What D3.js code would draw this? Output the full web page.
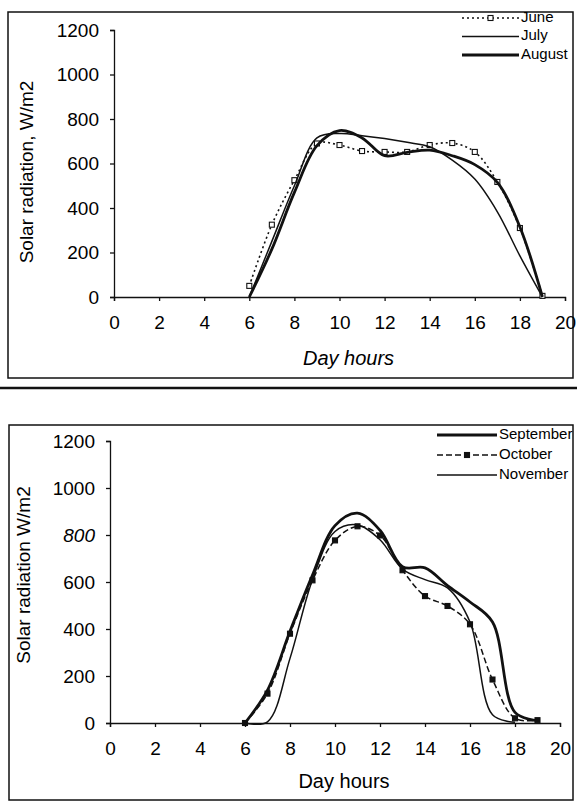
<!DOCTYPE html>
<html>
<head>
<meta charset="utf-8">
<script src="https://cdn.jsdelivr.net/npm/d3@7"></script>
<style>
  body { margin: 0; background: #fff; }
  svg { display: block; }
  text { font-family: "Liberation Sans", Arial, sans-serif; fill: #000; }
</style>
</head>
<body>
<div id="chart"></div>
<script>
var W = 577, H = 803

// day hours on the x axis
var hoursTop = [6, 7, 8, 9, 10, 11, 12, 13, 14, 15, 16, 17, 18, 19]
var hoursBottom = [6, 7, 8, 9, 10, 11, 12, 13, 14, 15, 16, 17, 18, 19]

// solar radiation, W/m2
var june = [50, 325, 525, 690, 683, 656, 652, 652, 683, 692, 652, 517, 310, 5]
var july = [0, 250, 500, 715, 735, 725, 712, 695, 675, 615, 530, 383, 185, 0]
var august = [0, 215, 470, 680, 748, 715, 635, 650, 660, 635, 595, 515, 315, 0]

var september = [0, 140, 390, 630, 840, 893, 820, 665, 660, 585, 515, 430, 45, 10]
var october = [0, 125, 380, 607, 777, 837, 798, 650, 540, 498, 420, 185, 20, 12]
var november = [0, 5, 275, 610, 815, 843, 780, 655, 610, 575, 430, 35, 3, null]

var xTicks = [0, 2, 4, 6, 8, 10, 12, 14, 16, 18, 20]
var yTicks = [0, 200, 400, 600, 800, 1000, 1200]

var svg = d3.select("#chart").append("svg")
    .attr("width", W)
    .attr("height", H)

// panel frames and the rule between them
svg.append("rect")
    .attr("x", 8).attr("y", 12)
    .attr("width", 565).attr("height", 366)
    .attr("fill", "none").attr("stroke", "#111").attr("stroke-width", 1.5)
svg.append("line")
    .attr("x1", 0).attr("x2", W)
    .attr("y1", 388).attr("y2", 388)
    .attr("stroke", "#111").attr("stroke-width", 2.5)
svg.append("rect")
    .attr("x", 9).attr("y", 425)
    .attr("width", 564).attr("height", 375)
    .attr("fill", "none").attr("stroke", "#111").attr("stroke-width", 1.5)

function drawPanel(p) {
    var x = d3.scaleLinear().domain([0, 20]).range([p.x0, p.x1])
    var y = d3.scaleLinear().domain([0, 1200]).range([p.y0, p.y1])
    var g = svg.append("g")

    g.append("g")
        .attr("transform", "translate(0," + p.y0 + ")")
        .call(d3.axisBottom(x).tickValues(xTicks).tickFormat(d3.format("d"))
            .tickSize(4).tickPadding(15))
    var yAxis = g.append("g")
        .attr("transform", "translate(" + p.x0 + ",0)")
        .call(d3.axisLeft(y).tickValues(yTicks).tickFormat(d3.format("d"))
            .tickSize(4).tickPadding(11))

    g.selectAll(".domain, .tick line").attr("stroke", "#111").attr("stroke-width", 1.3)
    g.selectAll(".tick text")
        .style("font-size", "19px")
        .style("font-family", "Liberation Sans, Arial, sans-serif")
    // the scan prints one tick label slanted
    if (p.slanted != null) {
        yAxis.selectAll(".tick text")
            .filter(d => d == p.slanted)
            .style("font-style", "italic")
    }

    g.append("text")
        .attr("transform", "translate(" + p.ylabX + "," + p.ylabY + ") rotate(-90)")
        .attr("text-anchor", "middle")
        .attr("dominant-baseline", "middle")
        .style("font-size", "19px")
        .text(p.ylabel)
    g.append("text")
        .attr("x", x(10.4)).attr("y", p.xlabY)
        .attr("text-anchor", "middle")
        .attr("dominant-baseline", "middle")
        .style("font-size", "20px")
        .style("font-style", p.italic ? "italic" : "normal")
        .text("Day hours")

    var line = d3.line()
        .defined(d => d[1] != null)
        .x(d => x(d[0]))
        .y(d => y(d[1]))
        .curve(d3.curveCatmullRom.alpha(0.5))

    p.series.forEach((s, i) => {
        var pts = p.hours.map((h, j) => [h, s.values[j]])
        g.append("path")
            .datum(pts)
            .attr("d", line)
            .attr("fill", "none")
            .attr("stroke", "#111")
            .attr("stroke-width", s.width)
            .attr("stroke-dasharray", s.dash || null)
            .attr("stroke-linejoin", "round")
        if (s.marker) {
            g.selectAll(".m" + i)
                .data(pts.filter(d => d[1] != null))
                .join("rect")
                .attr("x", d => x(d[0]) - 2.5)
                .attr("y", d => y(d[1]) - 2.5)
                .attr("width", 5).attr("height", 5)
                .attr("fill", s.marker == "filled" ? "#111" : "#fff")
                .attr("stroke", "#111")
                .attr("stroke-width", 1.1)
        }

        // legend entry
        var ly = p.legY + i * p.legStep
        g.append("line")
            .attr("x1", p.legX).attr("x2", p.legX + p.legLen)
            .attr("y1", ly).attr("y2", ly)
            .attr("stroke", "#111")
            .attr("stroke-width", s.width)
            .attr("stroke-dasharray", s.dash || null)
        if (s.marker) {
            g.append("rect")
                .attr("x", p.legX + p.legLen / 2 - 2.5).attr("y", ly - 2.5)
                .attr("width", 5).attr("height", 5)
                .attr("fill", s.marker == "filled" ? "#111" : "#fff")
                .attr("stroke", "#111").attr("stroke-width", 1.1)
        }
        g.append("text")
            .attr("x", p.legX + p.legLen + 2).attr("y", ly)
            .attr("dominant-baseline", "middle")
            .style("font-size", "15px")
            .text(s.name)
    })
}

drawPanel({
    x0: 114, x1: 565, y0: 297, y1: 30,
    hours: hoursTop,
    ylabel: "Solar radiation, W/m2", ylabX: 28, ylabY: 172,
    xlabY: 360, italic: true,
    legX: 462, legLen: 57, legY: 18, legStep: 18.5,
    series: [
        {name: "June", values: june, width: 1.6, dash: "2,3", marker: "open"},
        {name: "July", values: july, width: 1.5},
        {name: "August", values: august, width: 2.8}
    ]
})

drawPanel({
    x0: 110, x1: 560, y0: 723, y1: 441,
    hours: hoursBottom,
    ylabel: "Solar radiation W/m2", ylabX: 25, ylabY: 575,
    xlabY: 783, italic: false, slanted: 800,
    legX: 437, legLen: 60, legY: 435, legStep: 20,
    series: [
        {name: "September", values: september, width: 2.8},
        {name: "October", values: october, width: 1.5, dash: "6,3", marker: "filled"},
        {name: "November", values: november, width: 1.5}
    ]
})
</script>
</body>
</html>
